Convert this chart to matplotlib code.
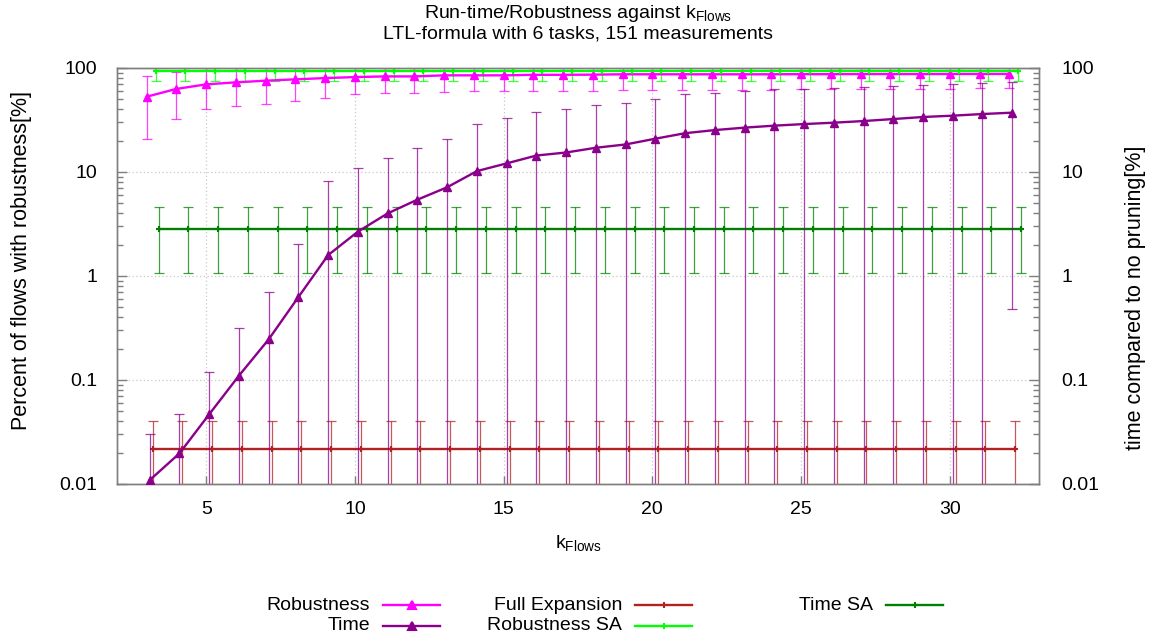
import matplotlib
matplotlib.use("Agg")
import matplotlib.pyplot as plt
from matplotlib.lines import Line2D
from matplotlib.ticker import FixedLocator, FuncFormatter, LogLocator, NullFormatter
import numpy as np

plt.rcParams["font.family"] = ["Liberation Sans", "DejaVu Sans"]
plt.rcParams["mathtext.fontset"] = "custom"
plt.rcParams["mathtext.rm"] = "Liberation Sans"
plt.rcParams["mathtext.it"] = "Liberation Sans:italic"

# ── data: k_Flows and the five series (mean, lower, upper) ───────────────────
k_flows = list(range(3, 33))

robustness = [53, 63, 69.6, 72.8, 75.5, 77.8, 80, 81.8, 83, 83, 85, 85, 85, 86, 86,
              86.3, 87, 87, 87, 87, 87, 87, 87.3, 87.3, 87.5, 87.5, 87.5, 87.6, 87.7, 87.7]
robustness_lo = [20.6, 32, 40, 42.8, 44.7, 48.2, 51.9, 55.8, 57, 57, 58.4, 60.4, 60, 60, 60,
                 60, 61, 61, 62, 62, 62, 62, 62.5, 62.5, 63, 63, 63.5, 63.5, 64, 64]
robustness_hi = [84, 91, 99, 99, 99, 99, 99, 99, 99, 99, 99, 99, 99, 99, 99,
                 99, 99, 99, 99, 99, 99, 99, 99, 99, 99, 99, 99, 99, 99, 99]

time = [0.0109, 0.0197, 0.0468, 0.11, 0.246, 0.628, 1.59, 2.67, 4.0, 5.42, 7.13, 10.2,
        12.1, 14.4, 15.4, 17.1, 18.4, 20.9, 23.6, 25.3, 26.7, 27.9, 28.9, 29.8, 30.9,
        32.3, 33.8, 34.8, 36.1, 37.2]
time_lo = [0.001, 0.001, 0.001, 0.001, 0.001, 0.001, 0.001, 0.001, 0.001, 0.001, 0.001,
           0.001, 0.001, 0.001, 0.001, 0.001, 0.001, 0.001, 0.001, 0.001, 0.001, 0.001,
           0.001, 0.001, 0.001, 0.001, 0.001, 0.001, 0.001, 0.48]
time_hi = [0.0305, 0.0468, 0.12, 0.314, 0.697, 2.05, 8.24, 10.9, 13.5, 16.9, 20.6, 28.8,
           33, 38, 40, 43.8, 45.7, 50.3, 55.8, 57.9, 60.1, 62.4, 62.4, 63.7, 65.2, 67.1,
           68.7, 69.7, 71.3, 72.8]

full_expansion = [0.0217] * 30
full_expansion_lo = [0.001] * 30
full_expansion_hi = [0.0407] * 30

robustness_sa = [93.5] * 30
robustness_sa_lo = [75.5] * 30
robustness_sa_hi = [100] * 30

time_sa = [2.81] * 30
time_sa_lo = [1.06] * 30
time_sa_hi = [4.58] * 30

series = [
    # label, values, lower, upper, colour, marker, x-offset, axis
    ("Robustness", robustness, robustness_lo, robustness_hi, "#ff00ff", "^", 0.0, "y1"),
    ("Time", time, time_lo, time_hi, "#8b008b", "^", 0.1, "y2"),
    ("Full Expansion", full_expansion, full_expansion_lo, full_expansion_hi, "#b22222", "+", 0.2, "y1"),
    ("Robustness SA", robustness_sa, robustness_sa_lo, robustness_sa_hi, "#00ff00", "+", 0.3, "y1"),
    ("Time SA", time_sa, time_sa_lo, time_sa_hi, "#008000", "+", 0.4, "y1"),
]

# ── figure ───────────────────────────────────────────────────────────────────
W, H = 1157, 640
fig = plt.figure(figsize=(W / 100, H / 100), dpi=100, facecolor="white")
L, R, T, B = 117, 1039, 68, 484
ax = fig.add_axes([L / W, 1 - B / H, (R - L) / W, (B - T) / H])
ax2 = ax.twinx()

FS = 14
for a in (ax, ax2):
    a.set_yscale("log")
    a.set_ylim(0.01, 100)
    a.set_xlim(2, 33)

def draw(a, vals, lo, hi, color, marker, dx):
    x = np.array(k_flows) + dx
    v = np.array(vals)
    yerr = [v - np.array(lo), np.array(hi) - v]
    a.errorbar(x, v, yerr=yerr, fmt="none", ecolor=color, elinewidth=0.9,
               capsize=3.5, capthick=0.9, alpha=0.75, zorder=2)
    if marker == "^":
        a.plot(x, v, color=color, lw=1.7, marker="^", ms=6, zorder=3)
    else:
        a.plot(x, v, color=color, lw=1.7, marker="+", ms=5, mew=1.5, zorder=3)

for label, vals, lo, hi, color, marker, dx, axis in series:
    draw(ax2 if axis == "y2" else ax, vals, lo, hi, color, marker, dx)

# grid and ticks
ax.grid(True, which="major", color="#c8c8c8", lw=0.9, ls=(0, (1, 2)))
ax.set_axisbelow(True)
decades = [0.01, 0.1, 1, 10, 100]
fmt = FuncFormatter(lambda v, p: "%g" % v)
for a in (ax, ax2):
    a.yaxis.set_major_locator(FixedLocator(decades))
    a.yaxis.set_major_formatter(fmt)
    a.yaxis.set_minor_locator(LogLocator(base=10, subs=np.arange(2, 10)))
    a.yaxis.set_minor_formatter(NullFormatter())
    for sp in a.spines.values():
        sp.set_color("#7f7f7f")
        sp.set_linewidth(1.0)
ax.set_xticks([5, 10, 15, 20, 25, 30])
ax.tick_params(axis="x", direction="in", length=6, width=1, color="#7f7f7f",
               labelsize=FS, pad=12, top=False)
ax.tick_params(axis="y", which="major", direction="in", length=7, width=1,
               color="#7f7f7f", labelsize=FS, pad=14, right=False)
ax.tick_params(axis="y", which="minor", direction="in", length=4, width=1,
               color="#7f7f7f", right=False)
ax2.tick_params(axis="y", which="major", direction="in", length=7, width=1,
                color="#7f7f7f", labelsize=FS, pad=16)
ax2.tick_params(axis="y", which="minor", direction="in", length=4, width=1,
                color="#7f7f7f")

# labels
fig.text(578 / W, 1 - 14 / H, r"Run-time/Robustness against k$_{\mathrm{Flows}}$",
         ha="center", va="center", fontsize=FS)
fig.text(578 / W, 1 - 34 / H, "LTL-formula with 6 tasks, 151 measurements",
         ha="center", va="center", fontsize=FS)
fig.text(578 / W, 1 - 543 / H, r"k$_{\mathrm{Flows}}$", ha="center", va="center",
         fontsize=FS)
fig.text(22 / W, 1 - 260 / H, "Percent of flows with robustness[%]", rotation=90,
         ha="center", va="center", fontsize=15.5)
fig.text(1136 / W, 1 - 298 / H, "time compared to no pruning[%]", rotation=90,
         ha="center", va="center", fontsize=15.5)

# legend: text right-aligned, sample line to the right
legend_pos = {
    "Robustness": (370, 605),
    "Time": (370, 626),
    "Full Expansion": (622, 605),
    "Robustness SA": (622, 626),
    "Time SA": (873, 605),
}
for label, vals, lo, hi, color, marker, dx, axis in series:
    tx, ty = legend_pos[label]
    fig.text(tx / W, 1 - ty / H, label, ha="right", va="center", fontsize=FS)
    x0, x1 = tx + 13, tx + 70
    yy = 1 - ty / H
    fig.add_artist(Line2D([x0 / W, x1 / W], [yy, yy], color=color, lw=1.7,
                          transform=fig.transFigure))
    fig.add_artist(Line2D([(x0 + x1) / 2 / W], [yy], color=color, marker=marker,
                          ms=6 if marker == "^" else 5, mew=1.5,
                          transform=fig.transFigure))

fig.savefig("out.png", dpi=100, facecolor="white")
